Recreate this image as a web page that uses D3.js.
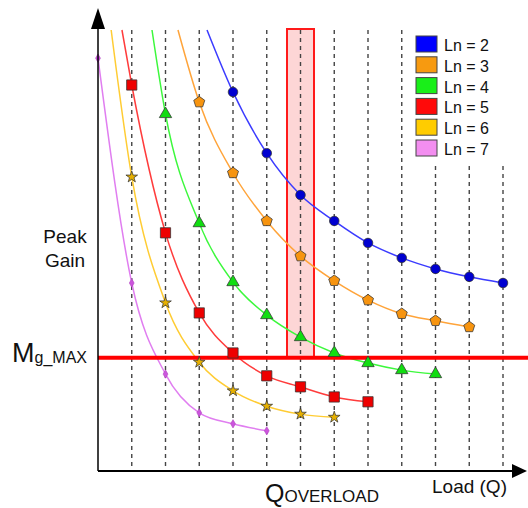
<!DOCTYPE html>
<html>
<head>
<meta charset="utf-8">
<script src="https://cdn.jsdelivr.net/npm/d3@7"></script>
<style>
  body { margin: 0; background: #fff; }
  svg { display: block; font-family: "Liberation Sans", Arial, sans-serif; }
</style>
</head>
<body>
<div id="main"></div>
<script>
// peak gain vs load, one curve per Ln
var names = ["Ln = 2", "Ln = 3", "Ln = 4", "Ln = 5", "Ln = 6", "Ln = 7"];
var firstQ = [4, 3, 2, 1, 1, 0];               // load step of the first marker
var topQ = [3.23, 2.37, 1.6, 0.71, 0.39, null]; // where the curve leaves the top
var gainLn2 = [8.59, 7.20, 6.25, 5.66, 5.16, 4.82, 4.57, 4.39, 4.25];
var gainLn3 = [8.36, 6.75, 5.66, 4.86, 4.30, 3.86, 3.55, 3.39, 3.25];
var gainLn4 = [8.09, 5.61, 4.27, 3.52, 3.02, 2.66, 2.43, 2.27, 2.18];
var gainLn5 = [8.75, 5.39, 3.57, 2.66, 2.14, 1.89, 1.66, 1.55];
var gainLn6 = [6.66, 3.80, 2.45, 1.80, 1.45, 1.27, 1.20];
var gainLn7 = [9.36, 4.25, 2.18, 1.30, 1.05, 0.89];
var gains = [gainLn2, gainLn3, gainLn4, gainLn5, gainLn6, gainLn7];
var loadSteps = d3.range(1, 13);
var gainMax = 2.55;     // Mg_MAX
var overloadQ = 6;      // Q_OVERLOAD
var gainTop = 10;

var lineColors = ["#3b3bff", "#ffa43a", "#3cf83c", "#ff3c3c", "#ffcc33", "#e07ef0"];
var markerFill = ["#0000d0", "#f7940f", "#11dd11", "#ee0000", "#e6b000", "#cc55dd"];
var legendFill = ["#0000ff", "#f79a10", "#19ef19", "#ff0a0a", "#ffcc00", "#f38ef0"];

var width = 528, height = 508;

var x = d3.scaleLinear().domain([0, 12]).range([98, 503]);
var y = d3.scaleLinear().domain([0, gainTop]).range([470, 30]);

var symbolPentagon = {
  draw: function(ctx, size) {
    var r = Math.sqrt(size / 2.378);
    for (var k = 0; k < 5; k++) {
      var a = -Math.PI / 2 + k * 2 * Math.PI / 5;
      if (k === 0) ctx.moveTo(r * Math.cos(a), r * Math.sin(a));
      else ctx.lineTo(r * Math.cos(a), r * Math.sin(a));
    }
    ctx.closePath();
  }
};
var symbols = [
  d3.symbol().type(d3.symbolCircle).size(72),
  d3.symbol().type(symbolPentagon).size(80),
  d3.symbol().type(d3.symbolTriangle).size(66),
  d3.symbol().type(d3.symbolSquare).size(105),
  d3.symbol().type(d3.symbolStar).size(42),
  d3.symbol().type(d3.symbolDiamond).size(20)
];

var svg = d3.select("#main")
  .append("svg")
  .attr("width", width)
  .attr("height", height);

svg.append("rect").attr("width", width).attr("height", height).attr("fill", "#fff");

// overload band
svg.append("rect")
  .attr("x", x(overloadQ - 0.4))
  .attr("y", y(gainTop) - 1)
  .attr("width", x(overloadQ + 0.4) - x(overloadQ - 0.4))
  .attr("height", y(gainMax) - y(gainTop) + 1)
  .attr("fill", "#fdd6d6")
  .attr("stroke", "#ff1a1a")
  .attr("stroke-width", 2);

// dashed grid at each load step
svg.append("g")
  .selectAll("line")
  .data(loadSteps)
  .join("line")
  .attr("x1", d => x(d)).attr("x2", d => x(d))
  .attr("y1", y(gainTop)).attr("y2", y(0))
  .attr("stroke", "#444")
  .attr("stroke-width", 1.4)
  .attr("stroke-dasharray", "4,4");

// curves
var line = d3.line()
  .x(d => x(d[0]))
  .y(d => y(d[1]))
  .curve(d3.curveMonotoneX);

var series = gains.map(function(g, i) {
  var pts = g.map((v, j) => [firstQ[i] + j, v]);
  var path = topQ[i] == null ? pts : [[topQ[i], gainTop]].concat(pts);
  return {i: i, pts: pts, path: path};
});

svg.append("g")
  .attr("fill", "none")
  .attr("stroke-width", 1.5)
  .selectAll("path")
  .data(series)
  .join("path")
  .attr("stroke", d => lineColors[d.i])
  .attr("d", d => line(d.path));

// Mg_MAX line
svg.append("line")
  .attr("x1", x(0)).attr("x2", width)
  .attr("y1", y(gainMax)).attr("y2", y(gainMax))
  .attr("stroke", "#ff0000")
  .attr("stroke-width", 4);

// markers
series.forEach(function(s) {
  svg.append("g")
    .selectAll("path")
    .data(s.pts)
    .join("path")
    .attr("transform", d => "translate(" + x(d[0]) + "," + y(d[1]) + ")")
    .attr("d", symbols[s.i])
    .attr("fill", markerFill[s.i])
    .attr("stroke", s.i === 5 ? "#b040c0" : "#333")
    .attr("stroke-opacity", s.i === 5 ? 0.6 : 0.75)
    .attr("stroke-width", 1);
});

// axes with arrows
svg.append("line")
  .attr("x1", x(0)).attr("x2", x(0))
  .attr("y1", y(0) + 1).attr("y2", 24)
  .attr("stroke", "#000").attr("stroke-width", 1.5);
svg.append("path")
  .attr("d", "M" + x(0) + ",8L" + (x(0) - 7) + ",29L" + (x(0) + 7) + ",29Z")
  .attr("fill", "#000");
svg.append("line")
  .attr("x1", x(0)).attr("x2", 516)
  .attr("y1", y(0) + 1).attr("y2", y(0) + 1)
  .attr("stroke", "#000").attr("stroke-width", 2);
svg.append("path")
  .attr("d", "M527," + (y(0) + 1) + "L512," + (y(0) - 6) + "L512," + (y(0) + 8) + "Z")
  .attr("fill", "#000");

// labels
var peak = svg.append("text")
  .attr("x", 65).attr("text-anchor", "middle")
  .attr("font-size", 19).attr("fill", "#111");
peak.append("tspan").attr("x", 65).attr("y", 243).text("Peak");
peak.append("tspan").attr("x", 65).attr("y", 267).text("Gain");

var mg = svg.append("text")
  .attr("x", 12).attr("y", y(gainMax) + 4)
  .attr("fill", "#111");
mg.append("tspan").attr("font-size", 27).text("M");
mg.append("tspan").attr("font-size", 16).attr("dy", 1).text("g_MAX");

var qo = svg.append("text")
  .attr("x", 265).attr("y", 502)
  .attr("fill", "#111");
qo.append("tspan").attr("font-size", 25).text("Q");
qo.append("tspan").attr("font-size", 17).text("OVERLOAD");

svg.append("text")
  .attr("x", 432).attr("y", 493)
  .attr("font-size", 19).attr("fill", "#111")
  .text("Load (Q)");

// legend, on a white patch that hides the grid behind it
svg.append("rect")
  .attr("x", 409).attr("y", 28)
  .attr("width", 112).attr("height", 134)
  .attr("fill", "#fff");
var legend = svg.append("g")
  .selectAll("g")
  .data(names)
  .join("g")
  .attr("transform", (d, i) => "translate(416," + (36 + i * 20.8) + ")");
legend.append("rect")
  .attr("width", 21).attr("height", 16)
  .attr("fill", (d, i) => legendFill[i])
  .attr("stroke", "#444").attr("stroke-width", 1);
legend.append("text")
  .attr("x", 28).attr("y", 15)
  .attr("font-size", 16).attr("fill", "#111")
  .text(d => d);
</script>
</body>
</html>
